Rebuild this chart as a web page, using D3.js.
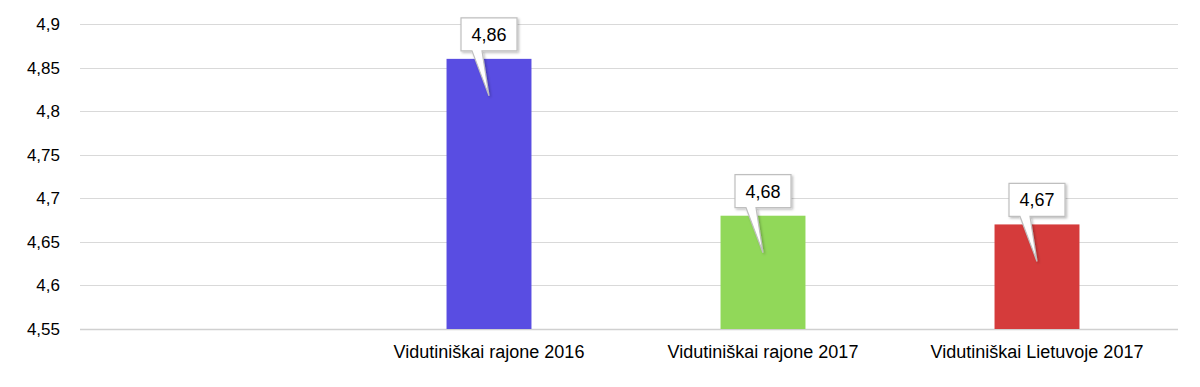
<!DOCTYPE html>
<html><head><meta charset="utf-8">
<script src="https://cdn.jsdelivr.net/npm/d3@7"></script>
<style>body{margin:0;background:#fff}svg{display:block}</style>
</head><body>
<script>
const categories = ["", "Vidutiniškai rajone 2016", "Vidutiniškai rajone 2017", "Vidutiniškai Lietuvoje 2017"];
const values = [null, 4.86, 4.68, 4.67];
const colors = ["#ffffff", "#594DE2", "#91D859", "#D53B3B"];
const yTicks = [4.55, 4.6, 4.65, 4.7, 4.75, 4.8, 4.85, 4.9];

const W = 1200, H = 387;
const svg = d3.select("body").append("svg").attr("width", W).attr("height", H);
const defs = svg.append("defs");
const f = defs.append("filter").attr("id","sh").attr("x","-20%").attr("y","-20%").attr("width","150%").attr("height","150%");
f.append("feDropShadow").attr("dx",1.5).attr("dy",1.5).attr("stdDeviation",1).attr("flood-color","#000").attr("flood-opacity",0.25);

const x = d3.scaleBand().domain(categories.map((d,i)=>i)).range([78, 1174]).paddingInner(0.69).paddingOuter(0.345);
const y = d3.scaleLinear().domain([4.55, 4.9]).range([329, 24]);
const fmt = v => String(+v.toFixed(2)).replace(".", ",");

// grid
svg.append("g").selectAll("line").data(yTicks).join("line")
  .attr("x1", 80).attr("x2", 1178)
  .attr("y1", d => Math.round(y(d))+0.5).attr("y2", d => Math.round(y(d))+0.5)
  .attr("stroke", d => d===4.55 ? "#d0d0d0" : "#d9d9d9")
  .attr("stroke-width", d => d===4.55 ? 1.5 : 1);

// y axis
const ya = svg.append("g").attr("transform","translate(62,0)")
  .call(d3.axisLeft(y).tickValues(yTicks).tickSize(0).tickPadding(2).tickFormat(fmt));
ya.select(".domain").remove();
ya.selectAll("text").attr("font-family","Liberation Sans, Arial, sans-serif").attr("font-size",17).attr("fill","#000");

// x axis
const xa = svg.append("g").attr("transform","translate(0,343)")
  .call(d3.axisBottom(x).tickSize(0).tickPadding(0).tickFormat(i => categories[i]));
xa.select(".domain").remove();
xa.selectAll("text").attr("font-family","Liberation Sans, Arial, sans-serif").attr("font-size",18).attr("fill","#000").attr("dy","0.85em");

const data = values.map((v,i)=>({i, v, c: colors[i]})).filter(d => d.v != null);

svg.append("g").selectAll("rect").data(data).join("rect")
  .attr("x", d => x(d.i)).attr("width", x.bandwidth())
  .attr("y", d => y(d.v)).attr("height", d => y(4.55) - y(d.v))
  .attr("fill", d => d.c);

// callouts
const bw = 56, bh = 33;
const cg = svg.append("g").selectAll("g").data(data).join("g")
  .attr("transform", d => `translate(${x(d.i)+x.bandwidth()/2},${y(d.v)})`);
cg.append("path")
  .attr("d", `M${-bw/2},${-8-bh} H${bw/2} V-8 H-7 L0,37 L-17,-8 H${-bw/2} Z`)
  .attr("fill","#fff").attr("stroke","#bfbfbf").attr("stroke-width",1.2).attr("filter","url(#sh)");
cg.append("text").attr("x",0).attr("y",-8-bh/2).attr("dy","0.35em").attr("text-anchor","middle")
  .attr("font-family","Liberation Sans, Arial, sans-serif").attr("font-size",18).attr("fill","#000")
  .text(d => fmt(d.v));
</script>
</body></html>
